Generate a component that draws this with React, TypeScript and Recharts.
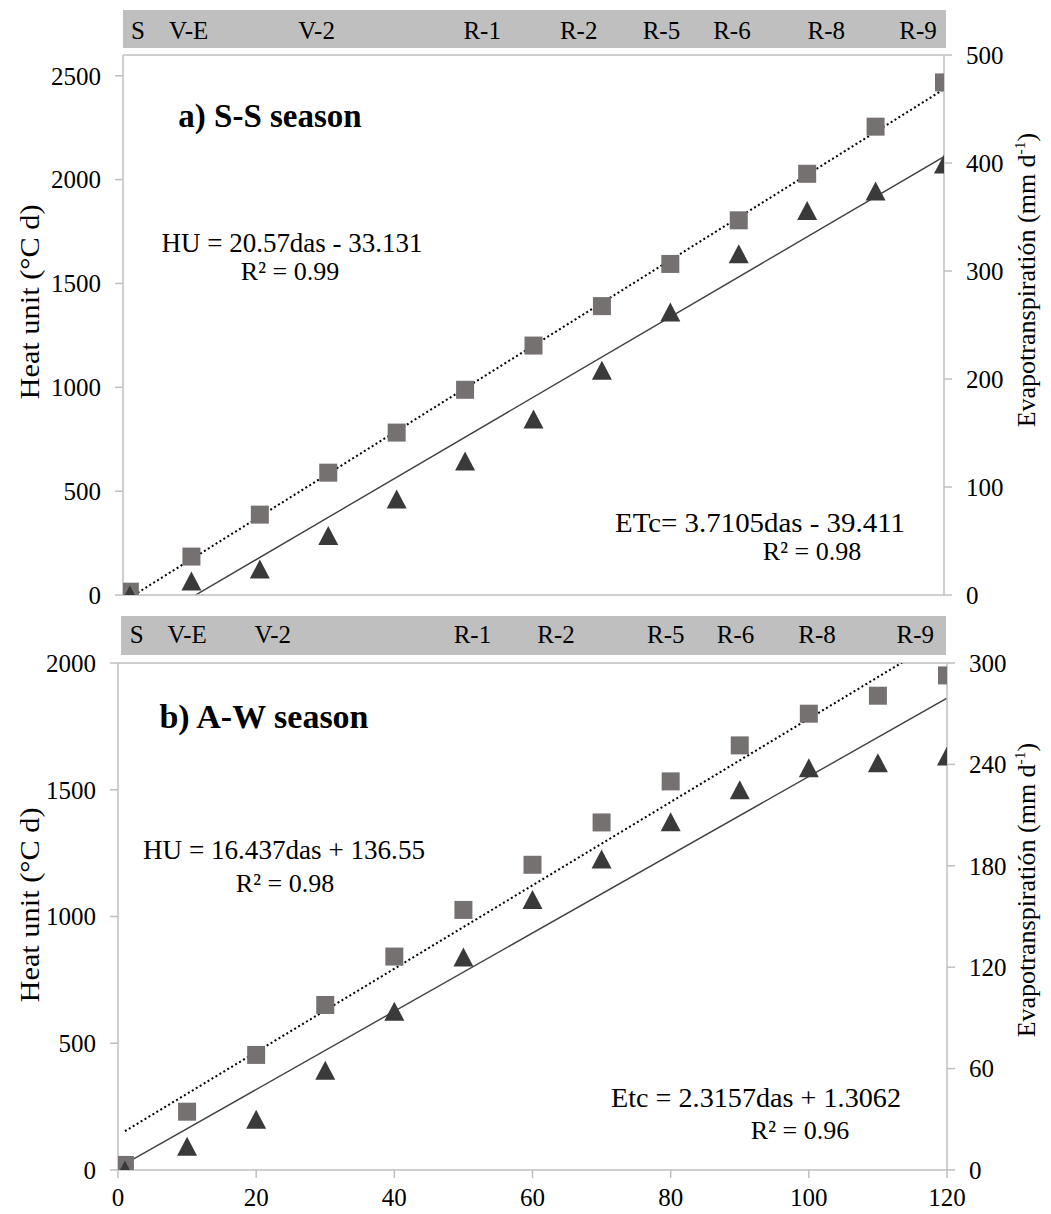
import { ComposedChart, Scatter, Line, XAxis, YAxis, ReferenceLine } from 'recharts';

// days after sowing
const das = [1, 10, 20, 30, 40, 50, 60, 70, 80, 90, 100, 110, 120];

// a) S-S season
const huSS = [16, 185, 387, 589, 782, 988, 1201, 1391, 1594, 1804, 2028, 2255, 2468];
const etcSS = [0, 13, 24, 55, 89, 124, 163, 208, 262, 316, 356, 374, 399];

// b) A-W season
const huAW = [20, 230, 454, 651, 842, 1026, 1204, 1371, 1533, 1675, 1800, 1871, 1951];
const etcAW = [0, 14, 30, 59, 94, 126, 160, 184, 206, 225, 238, 241, 245];

// phenological stages along the top band
const stages = ['S', 'V-E', 'V-2', 'R-1', 'R-2', 'R-5', 'R-6', 'R-8', 'R-9'];
const stageDasSS = [2.2, 9.6, 28.3, 52.5, 66.6, 78.7, 89.0, 102.8, 116.2];
const stageDasAW = [2.7, 10.0, 22.4, 51.3, 63.4, 79.3, 89.4, 101.2, 115.4];

// linear trendlines [slope, intercept]
const huFitSS = [20.57, -33.131];
const etcFitSS = [3.7105, -39.411];
const huFitAW = [16.437, 136.55];
const etcFitAW = [2.3157, 1.3062];

const xTicks = [0, 20, 40, 60, 80, 100, 120];
const leftTicksSS = [0, 500, 1000, 1500, 2000, 2500];
const rightTicksSS = [0, 100, 200, 300, 400, 500];
const leftTicksAW = [0, 500, 1000, 1500, 2000];
const rightTicksAW = [0, 60, 120, 180, 240, 300];

const FONT = "'Liberation Serif', 'Times New Roman', serif";
const AXIS = '#bfbfbf';

const points = (ys: number[]) => das.map((x, i) => ({ x, y: ys[i] }));
const fitLine = ([a, b]: number[]) => [
  { x: das[0], y: a * das[0] + b },
  { x: das[das.length - 1], y: a * das[das.length - 1] + b },
];

const Square = (props: any) => {
  const { cx, cy } = props;
  return <rect x={cx - 9} y={cy - 9} width={18} height={18} fill="#767171" />;
};

const Triangle = (props: any) => {
  const { cx, cy } = props;
  return (
    <polygon
      points={`${cx},${cy - 9.5} ${cx + 10},${cy + 9.5} ${cx - 10},${cy + 9.5}`}
      fill="#3a3a3a"
    />
  );
};

const tickStyle = { fontFamily: FONT, fontSize: 25, fill: '#000' };

type PanelProps = {
  top: number;
  height: number;
  stageTop: number;
  stageOffset: number;
  bottomHeight: number;
  leftWidth: number;
  rightWidth: number;
  hu: number[];
  etc: number[];
  huFit: number[];
  etcFit: number[];
  stageDas: number[];
  leftMax: number;
  rightMax: number;
  leftTicks: number[];
  rightTicks: number[];
  showX: boolean;
};

const Panel = (p: PanelProps) => (
  <div style={{ position: 'absolute', left: 0, top: p.top }}>
    <ComposedChart
      width={1051}
      height={p.height}
      margin={{ top: p.stageTop, right: 0, left: 0, bottom: 0 }}
    >
      <XAxis
        dataKey="x"
        type="number"
        domain={[0, 120]}
        allowDataOverflow
        ticks={xTicks}
        interval={0}
        height={p.bottomHeight}
        axisLine={{ stroke: AXIS, strokeWidth: 1.5 }}
        tickLine={p.showX ? { stroke: AXIS, strokeWidth: 1.5 } : false}
        tickSize={8}
        tickMargin={10}
        tick={p.showX ? tickStyle : false}
      />
      <YAxis
        yAxisId="left"
        dataKey="y"
        type="number"
        domain={[0, p.leftMax]}
        allowDataOverflow
        ticks={p.leftTicks}
        interval={0}
        width={p.leftWidth}
        axisLine={{ stroke: AXIS, strokeWidth: 1.5 }}
        tickLine={{ stroke: AXIS, strokeWidth: 1.5 }}
        tickSize={8}
        tickMargin={14}
        tick={tickStyle}
      />
      <YAxis
        yAxisId="right"
        orientation="right"
        dataKey="y"
        type="number"
        domain={[0, p.rightMax]}
        allowDataOverflow
        ticks={p.rightTicks}
        interval={0}
        width={p.rightWidth}
        axisLine={{ stroke: AXIS, strokeWidth: 1.5 }}
        tickLine={{ stroke: AXIS, strokeWidth: 1.5 }}
        tickSize={8}
        tickMargin={14}
        tick={tickStyle}
      />
      <ReferenceLine yAxisId="left" y={p.leftMax} stroke={AXIS} strokeWidth={1.5} />
      {p.stageDas.map((d, i) => (
        <ReferenceLine
          key={stages[i]}
          yAxisId="left"
          x={d}
          stroke="none"
          label={{
            value: stages[i],
            position: 'top',
            offset: p.stageOffset,
            fill: '#000',
            fontSize: 25,
            fontFamily: FONT,
          }}
        />
      ))}
      <Scatter
        yAxisId="left"
        data={points(p.hu)}
        dataKey="y"
        shape={Square}
        isAnimationActive={false}
      />
      <Scatter
        yAxisId="right"
        data={points(p.etc)}
        dataKey="y"
        shape={Triangle}
        isAnimationActive={false}
      />
      <Line
        yAxisId="left"
        data={fitLine(p.huFit)}
        dataKey="y"
        type="linear"
        stroke="#000"
        strokeWidth={2}
        strokeDasharray="2 2.6"
        dot={false}
        activeDot={false}
        isAnimationActive={false}
      />
      <Line
        yAxisId="right"
        data={fitLine(p.etcFit)}
        dataKey="y"
        type="linear"
        stroke="#404040"
        strokeWidth={1.4}
        dot={false}
        activeDot={false}
        isAnimationActive={false}
      />
    </ComposedChart>
  </div>
);

const T = (props: any) => (
  <text fontFamily={FONT} fill="#000" textAnchor="middle" {...props} />
);

const Sup = ({ children }: any) => (
  <tspan dy={-10} fontSize="0.6em">
    {children}
  </tspan>
);

export default function App() {
  return (
    <div
      style={{
        position: 'absolute',
        left: 0,
        top: 0,
        width: 1051,
        height: 1214,
        background: '#fff',
        fontFamily: FONT,
      }}
    >
      <svg width={1051} height={1214} style={{ position: 'absolute', left: 0, top: 0 }}>
        <rect x={123} y={10} width={823} height={38} fill="#bfbfbf" />
        <rect x={121} y={616} width={825} height={39} fill="#bfbfbf" />
      </svg>

      <Panel
        top={0}
        height={620}
        stageTop={55}
        stageOffset={16}
        bottomHeight={25}
        leftWidth={123}
        rightWidth={107}
        hu={huSS}
        etc={etcSS}
        huFit={huFitSS}
        etcFit={etcFitSS}
        stageDas={stageDasSS}
        leftMax={2600}
        rightMax={500}
        leftTicks={leftTicksSS}
        rightTicks={rightTicksSS}
        showX={false}
      />
      <Panel
        top={606}
        height={608}
        stageTop={57}
        stageOffset={20}
        bottomHeight={44}
        leftWidth={118}
        rightWidth={104}
        hu={huAW}
        etc={etcAW}
        huFit={huFitAW}
        etcFit={etcFitAW}
        stageDas={stageDasAW}
        leftMax={2000}
        rightMax={300}
        leftTicks={leftTicksAW}
        rightTicks={rightTicksAW}
        showX={true}
      />

      <svg
        width={1051}
        height={1214}
        style={{ position: 'absolute', left: 0, top: 0, pointerEvents: 'none' }}
      >
        {/* panel a */}
        <T x={270} y={127} fontSize={33} fontWeight="bold">a) S-S season</T>
        <T x={292} y={252} fontSize={27} textLength={261} lengthAdjust="spacingAndGlyphs">
          HU = 20.57das - 33.131
        </T>
        <T x={290} y={280} fontSize={26}>
          R² = 0.99
        </T>
        <T x={760} y={532} fontSize={27} textLength={290} lengthAdjust="spacingAndGlyphs">
          ETc= 3.7105das - 39.411
        </T>
        <T x={812} y={560} fontSize={26}>
          R² = 0.98
        </T>
        <T
          x={39}
          y={302}
          fontSize={27}
          textLength={195}
          lengthAdjust="spacingAndGlyphs"
          transform="rotate(-90 39 302)"
        >
          Heat unit (°C d)
        </T>
        <T x={1035} y={280} fontSize={26} transform="rotate(-90 1035 280)">
          Evapotranspiratión (mm d<Sup>-1</Sup>
          <tspan dy={10}>)</tspan>
        </T>

        {/* panel b */}
        <T x={264} y={728} fontSize={34} fontWeight="bold">b) A-W season</T>
        <T x={284} y={859} fontSize={27} textLength={282} lengthAdjust="spacingAndGlyphs">
          HU = 16.437das + 136.55
        </T>
        <T x={285} y={892} fontSize={26}>
          R² = 0.98
        </T>
        <T x={756} y={1107} fontSize={27} textLength={290} lengthAdjust="spacingAndGlyphs">
          Etc = 2.3157das + 1.3062
        </T>
        <T x={800} y={1139} fontSize={26}>
          R² = 0.96
        </T>
        <T
          x={39}
          y={905}
          fontSize={27}
          textLength={195}
          lengthAdjust="spacingAndGlyphs"
          transform="rotate(-90 39 905)"
        >
          Heat unit (°C d)
        </T>
        <T x={1035} y={890} fontSize={26} transform="rotate(-90 1035 890)">
          Evapotranspiratión (mm d<Sup>-1</Sup>
          <tspan dy={10}>)</tspan>
        </T>
      </svg>
    </div>
  );
}
